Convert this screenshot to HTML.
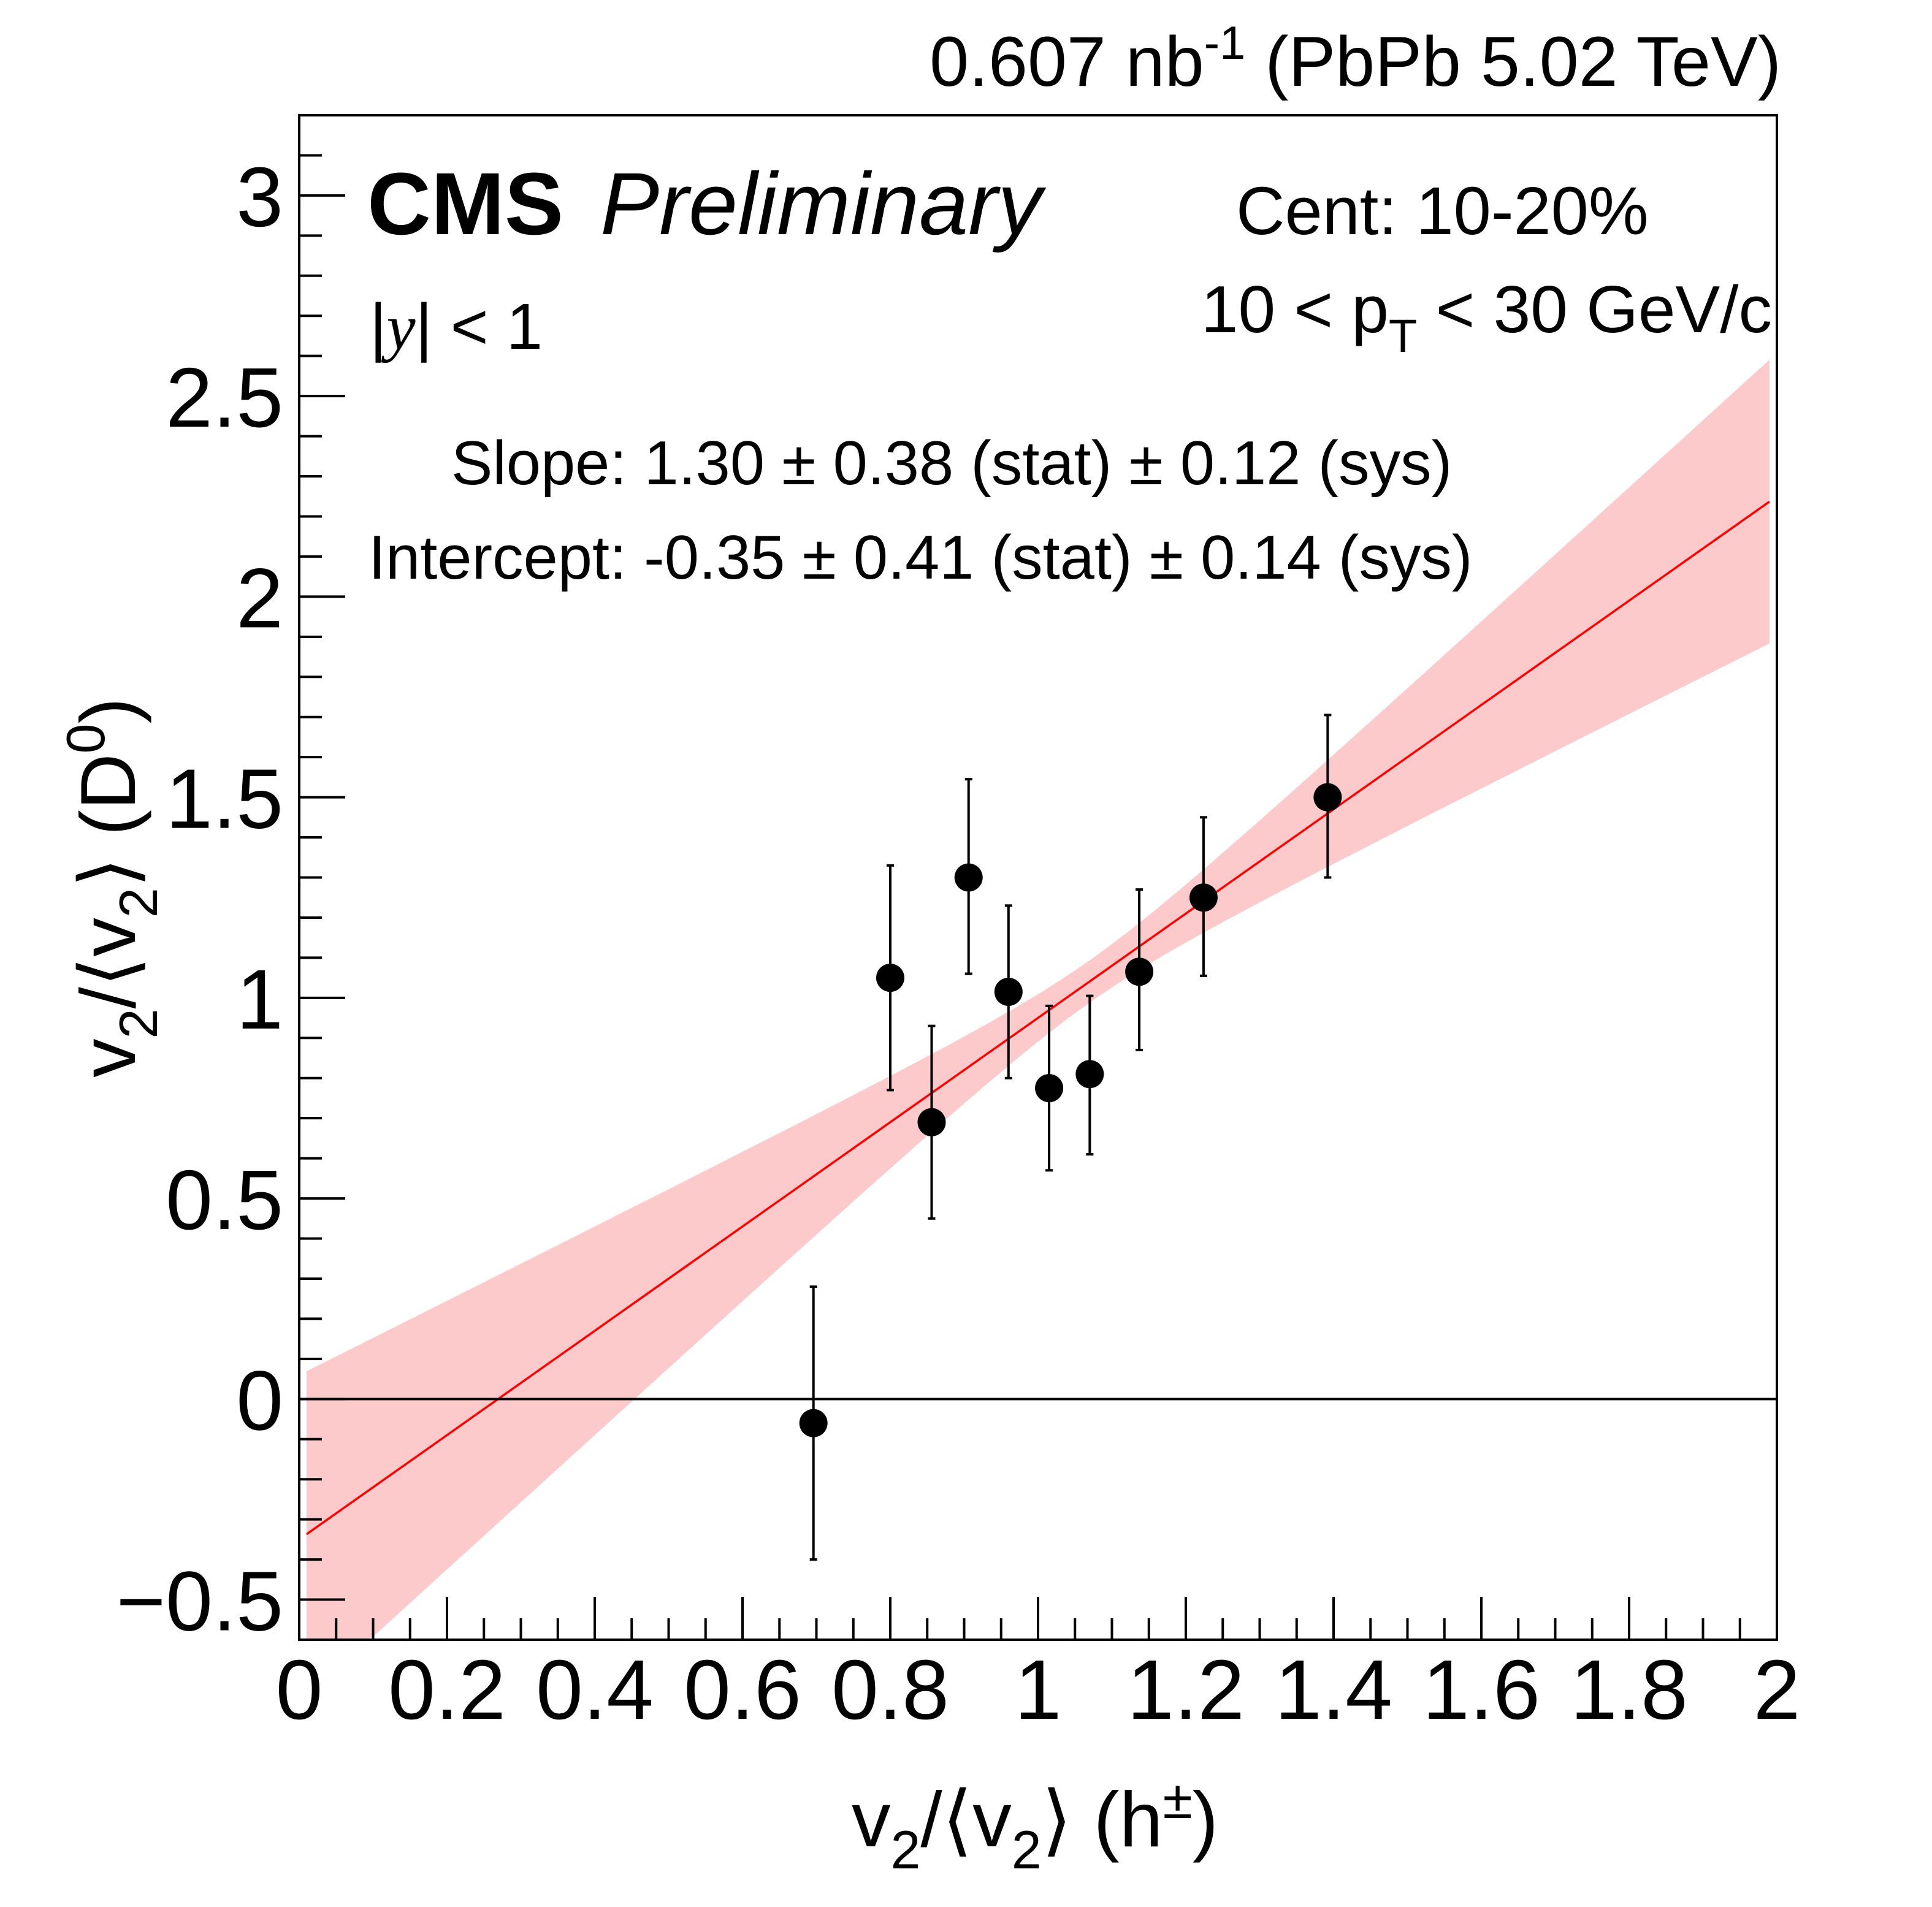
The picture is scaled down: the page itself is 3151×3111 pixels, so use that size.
<!DOCTYPE html>
<html><head><meta charset="utf-8"><style>
html,body{margin:0;padding:0;background:#fff;}
svg{display:block;font-family:"Liberation Sans",sans-serif;}
</style></head><body>
<svg id="chart" width="3151" height="3111" viewBox="0 0 3151 3111" xmlns="http://www.w3.org/2000/svg">
<rect x="0" y="0" width="3151" height="3111" fill="#fff"/>
<g id="band"></g>
<g id="fit"></g>
<g id="zero"></g>
<g id="pts"></g>
<g id="axes"></g>
<text x="2905" y="140" font-size="115" text-anchor="end">0.607 nb<tspan dy="-44" font-size="76">-1</tspan><tspan dy="44"> (PbPb 5.02 TeV)</tspan></text>
<text x="599" y="382" font-size="144" font-weight="bold">CMS</text>
<text x="979" y="382" font-size="144" font-style="italic">Preliminary</text>
<text x="2016" y="382" font-size="110">Cent: 10-20%</text>
<text x="2890" y="542" font-size="109" text-anchor="end">10 &lt; p<tspan dy="32" font-size="76">T</tspan><tspan dy="-32"> &lt; 30 GeV/c</tspan></text>
<text x="603" y="569" font-size="106">|<tspan font-family="Liberation Serif" font-style="italic">y</tspan>| &lt; 1</text>
<text x="736" y="790" font-size="101">Slope: 1.30 ± 0.38 (stat) ± 0.12 (sys)</text>
<text x="601" y="944" font-size="101">Intercept: -0.35 ± 0.41 (stat) ± 0.14 (sys)</text>
<text x="1688" y="3012" font-size="127" text-anchor="middle">v<tspan dy="36" font-size="88">2</tspan><tspan dy="-36">/⟨v</tspan><tspan dy="36" font-size="88">2</tspan><tspan dy="-36">⟩ (h</tspan><tspan dy="-46" font-size="88">±</tspan><tspan dy="46">)</tspan></text>
<text transform="translate(220,1448) rotate(-90)" font-size="127" text-anchor="middle">v<tspan dy="36" font-size="88">2</tspan><tspan dy="-36">/⟨v</tspan><tspan dy="36" font-size="88">2</tspan><tspan dy="-36">⟩ (D</tspan><tspan dy="-50" font-size="88">0</tspan><tspan dy="50">)</tspan></text>
</svg>
<script>
const xs = [0.696, 0.800, 0.856, 0.906, 0.960, 1.015, 1.070, 1.137, 1.224, 1.392];
const ys = [-0.06, 1.05, 0.69, 1.30, 1.015, 0.775, 0.81, 1.065, 1.25, 1.50];
const errHi = [0.28, 1.33, 0.93, 1.545, 1.23, 0.98, 1.005, 1.27, 1.45, 1.705];
const errLo = [-0.40, 0.77, 0.45, 1.06, 0.80, 0.57, 0.61, 0.87, 1.055, 1.30];
const fitParams = [1.30, -0.35];
const fitErrs = [0.38, 0.41, -0.1545];
const xTicks = [0, 0.2, 0.4, 0.6, 0.8, 1, 1.2, 1.4, 1.6, 1.8, 2];
const xTickLabels = ["0","0.2","0.4","0.6","0.8","1","1.2","1.4","1.6","1.8","2"];
const yTicks = [-0.5, 0, 0.5, 1, 1.5, 2, 2.5, 3];
const yTickLabels = ["\u22120.5","0","0.5","1","1.5","2","2.5","3"];

const L=488,R=2898,T=188,B=2675,X0=0,X1=2,Y0=-0.6,Y1=3.2;
const sx=v=>L+(v-X0)/(X1-X0)*(R-L);
const sy=v=>B-(v-Y0)/(Y1-Y0)*(B-T);
const NS="http://www.w3.org/2000/svg";
function mk(tag,parent,attrs){const e=document.createElementNS(NS,tag);for(const k in attrs)e.setAttribute(k,attrs[k]);parent.appendChild(e);return e;}
const clamp=v=>Math.max(Y0,Math.min(Y1,v));

const bandG=document.getElementById('band');
let up=[],dn=[];
for(let i=0;i<=198;i++){const x=0.01+i*0.01;const m=fitParams[0]*x+fitParams[1];
 const s=Math.sqrt(Math.max(0,fitErrs[1]**2+x*x*fitErrs[0]**2+2*x*fitErrs[2]));
 up.push(sx(x)+','+sy(clamp(m+s)));dn.unshift(sx(x)+','+sy(clamp(m-s)));}
const band=mk('polygon',bandG,{points:up.concat(dn).join(' '),fill:'#fccaca'});



const fl=mk('line',document.getElementById('fit'),{x1:sx(0.01),y1:sy(fitParams[0]*0.01+fitParams[1]),x2:sx(1.99),y2:sy(fitParams[0]*1.99+fitParams[1]),stroke:'#ff0000','stroke-width':3.5});



const zl=mk('line',document.getElementById('zero'),{x1:L,y1:sy(0),x2:R,y2:sy(0),stroke:'#000','stroke-width':4});



const pg=document.getElementById('pts');
for(let i=0;i<xs.length;i++){
 const g=mk('g',pg,{});
 
 
 const x=sx(xs[i]);
 mk('line',g,{x1:x,y1:sy(errHi[i]),x2:x,y2:sy(errLo[i]),stroke:'#000','stroke-width':4});
 mk('line',g,{x1:x-6,y1:sy(errHi[i]),x2:x+6,y2:sy(errHi[i]),stroke:'#000','stroke-width':4});
 mk('line',g,{x1:x-6,y1:sy(errLo[i]),x2:x+6,y2:sy(errLo[i]),stroke:'#000','stroke-width':4});
 mk('circle',g,{cx:x,cy:sy(ys[i]),r:23,fill:'#000'});
}

const ag=document.getElementById('axes');
const fr=mk('rect',ag,{x:L,y:T,width:R-L,height:B-T,fill:'none',stroke:'#000','stroke-width':4});


for(let v=0;v<=2.0001;v+=0.05){const maj=Math.abs(v/0.2-Math.round(v/0.2))<1e-6;const x=sx(v);
 mk('line',ag,{x1:x,y1:B,x2:x,y2:B-(maj?70:35),stroke:'#000','stroke-width':4});}
for(let v=-0.6;v<=3.2001;v+=0.1){const maj=Math.abs(v/0.5-Math.round(v/0.5))<1e-6;const y=sy(v);
 mk('line',ag,{x1:L,y1:y,x2:L+(maj?75:37),y2:y,stroke:'#000','stroke-width':4});}
xTicks.forEach((v,i)=>{const t=mk('text',ag,{x:sx(v),y:2804,'font-size':138,'text-anchor':'middle'});t.textContent=xTickLabels[i];
 
 });
yTicks.forEach((v,i)=>{const t=mk('text',ag,{x:462,y:sy(v)+50,'font-size':138,'text-anchor':'end'});t.textContent=yTickLabels[i];
 
 });
</script>
</body></html>
